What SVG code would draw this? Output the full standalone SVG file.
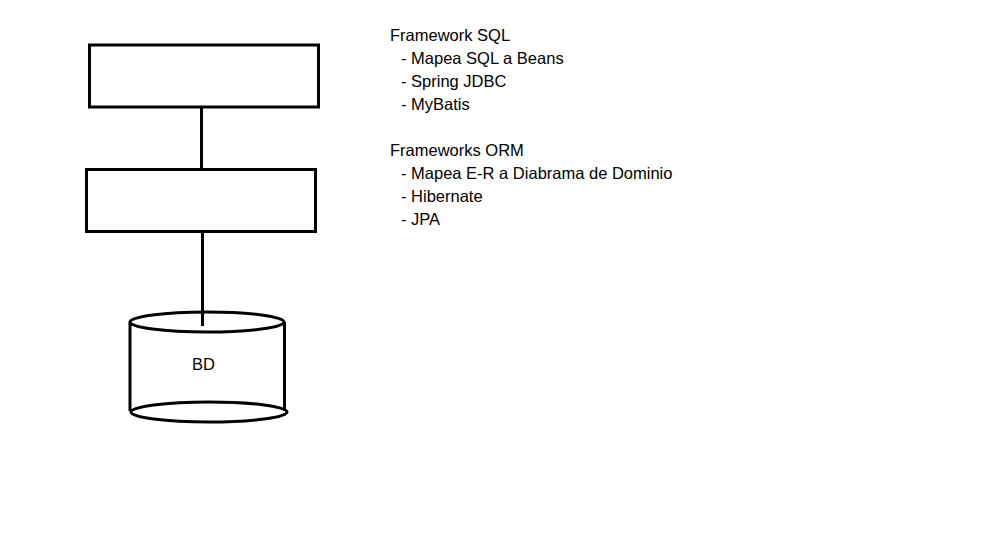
<svg xmlns="http://www.w3.org/2000/svg" width="1000" height="551" viewBox="0 0 1000 551">
<style>
.box{fill:#fff;stroke:#000;stroke-width:3}
.ln{stroke:#000;stroke-width:3;fill:none}
.t{font-family:"Liberation Sans",Arial,sans-serif;font-size:16.5px;fill:#000}
</style>
<rect width="1000" height="551" fill="#fff"/>
<g id="connectors">
<line class="ln" x1="201.5" y1="107" x2="201.5" y2="169"/>
<line class="ln" x1="202.5" y1="232" x2="202.5" y2="326"/>
</g>
<g id="box1"><rect class="box" x="89.5" y="45" width="229" height="62"/></g>
<g id="box2"><rect class="box" x="86.5" y="169.5" width="229" height="62"/></g>
<g id="db">
<path class="ln" d="M130 322 V411 M284.5 322 V411"/>
<ellipse class="ln" cx="207" cy="322" rx="77" ry="10"/>
<ellipse class="ln" cx="209" cy="412" rx="78" ry="10" fill="#fff"/>
<line class="ln" x1="202.5" y1="312" x2="202.5" y2="326"/>
<text class="t" x="192" y="370">BD</text>
</g>
<g id="notes">
<text class="t" x="390" y="41">Framework SQL</text>
<text class="t" x="401" y="64">- Mapea SQL a Beans</text>
<text class="t" x="401" y="87">- Spring JDBC</text>
<text class="t" x="401" y="110">- MyBatis</text>
<text class="t" x="390" y="156">Frameworks ORM</text>
<text class="t" x="401" y="179">- Mapea E-R a Diabrama de Dominio</text>
<text class="t" x="401" y="202">- Hibernate</text>
<text class="t" x="401" y="225">- JPA</text>
</g>
</svg>
